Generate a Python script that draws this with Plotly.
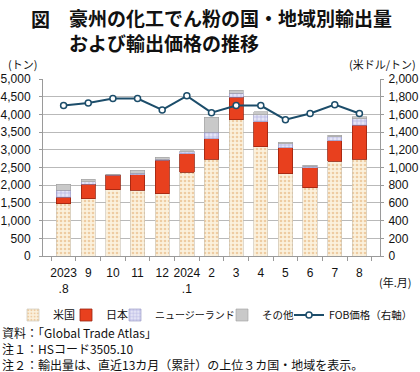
import plotly.graph_objects as go

categories = ["2023.8", "2023.9", "2023.10", "2023.11", "2023.12", "2024.1", "2024.2",
              "2024.3", "2024.4", "2024.5", "2024.6", "2024.7", "2024.8"]
tick_labels = ["2023<br>.8", "9", "10", "11", "12", "2024<br>.1", "2",
               "3", "4", "5", "6", "7", "8"]
us = [1470, 1620, 1870, 1860, 1760, 2360, 2730, 3850, 3090, 2330, 1930, 2680, 2740]
japan = [190, 410, 410, 430, 950, 530, 580, 640, 700, 730, 560, 580, 950]
nz = [200, 70, 15, 50, 20, 50, 180, 110, 200, 110, 50, 110, 190]
other = [160, 70, 15, 80, 60, 40, 430, 80, 90, 50, 30, 40, 60]
fob = [1700, 1730, 1780, 1780, 1650, 1810, 1620, 1700, 1700, 1540, 1610, 1710, 1610]

L, R, T, B = 43, 40, 79, 116
W, H = 420, 372
PW, PH = W - L - R, H - T - B


def px(x):
    return (x - L) / PW


def py(y):
    return (T + PH - y) / PH


NUM = "Liberation Sans, Arial, Noto Sans CJK JP"
JP = "Noto Sans CJK JP, Liberation Sans"

fig = go.Figure()
fig.add_trace(go.Bar(
    x=categories, y=us, name="米国", legend="legend",
    marker=dict(color="#fbf1dd", line=dict(color="#c8c0b0", width=0.6),
                pattern=dict(shape=".", fgcolor="#e2a868", bgcolor="#fbf1dd", size=4, solidity=0.35)),
))
fig.add_trace(go.Bar(
    x=categories, y=japan, name="日本", legend="legend2",
    marker=dict(color="#e8401e", line=dict(color="#9a2410", width=0.8)),
))
fig.add_trace(go.Bar(
    x=categories, y=nz, name="ニュージーランド", legend="legend3",
    marker=dict(color="#dcdcf2", line=dict(color="#9090c0", width=0.6),
                pattern=dict(shape="+", fgcolor="#7f7fcc", bgcolor="#e4e4f6", size=4, solidity=0.3)),
))
fig.add_trace(go.Bar(
    x=categories, y=other, name="その他", legend="legend4",
    marker=dict(color="#c9c9c9", line=dict(color="#a0a0a0", width=0.6)),
))
fig.add_trace(go.Scatter(
    x=categories, y=fob, name="FOB価格（右軸）", yaxis="y2", legend="legend5",
    mode="lines+markers",
    line=dict(color="#1c4d6a", width=2),
    marker=dict(symbol="circle", size=6, color="white", line=dict(color="#1c4d6a", width=1.5)),
))

legend_base = dict(orientation="h", xanchor="left", yanchor="middle",
                   bgcolor="rgba(0,0,0,0)", itemwidth=30, borderwidth=0)
legend_text_x = [55, 108, 157, 264, 331]
legend_font = [11, 11, 10, 10.5, 10.5]
legends = {}
for i, (tx, fs) in enumerate(zip(legend_text_x, legend_font)):
    key = "legend" if i == 0 else f"legend{i+1}"
    legends[key] = dict(legend_base, x=px(tx - 42), y=py(315),
                        font=dict(family=JP, size=fs, color="#111"))

fig.update_layout(
    width=W, height=H, autosize=False,
    margin=dict(l=L, r=R, t=T, b=B, autoexpand=False),
    paper_bgcolor="white", plot_bgcolor="white",
    barmode="stack", bargap=0.42,
    showlegend=True,
    font=dict(family=NUM, size=12, color="#111"),
    xaxis=dict(type="category", tickmode="array", tickvals=categories, ticktext=tick_labels,
               tickson="boundaries", ticks="outside", ticklen=4, tickcolor="#9a9a9a",
               showline=True, linecolor="#9a9a9a", linewidth=1, showgrid=False, tickangle=0,
               tickfont=dict(family=NUM, size=12, color="#111"), ticklabelstandoff=6),
    yaxis=dict(range=[0, 5000], dtick=500, tickformat=",d", showgrid=True,
               gridcolor="#b9b9b9", gridwidth=1, zeroline=False,
               showline=True, linecolor="#9a9a9a", ticks="outside", ticklen=3, tickcolor="#9a9a9a",
               tickfont=dict(family=NUM, size=12, color="#111"), ticklabelstandoff=6),
    yaxis2=dict(range=[0, 2000], dtick=200, tickformat=",d", overlaying="y", side="right",
                showgrid=False, zeroline=False, showline=True, linecolor="#9a9a9a",
                ticks="outside", ticklen=3, tickcolor="#9a9a9a",
                tickfont=dict(family=NUM, size=12, color="#111"), ticklabelstandoff=2),
    **legends,
)

ann = [
    dict(text="<b>図</b>", x=px(29), y=py(18.5), xanchor="left", yanchor="middle",
         font=dict(family=JP, size=19, color="#111")),
    dict(text="<b>豪州の化工でん粉の国・地域別輸出量</b><br><b>および輸出価格の推移</b>",
         x=px(67), y=py(30), xanchor="left", yanchor="middle", align="left",
         font=dict(family=JP, size=19, color="#111")),
    dict(text="(トン)", x=px(6), y=py(64), xanchor="left", yanchor="middle",
         font=dict(family=JP, size=11, color="#111")),
    dict(text="(米ドル/トン)", x=px(418), y=py(64), xanchor="right", yanchor="middle",
         font=dict(family=JP, size=11, color="#111")),
    dict(text="(年.月)", x=px(377), y=py(282), xanchor="left", yanchor="middle",
         font=dict(family=JP, size=11, color="#111")),
    dict(text="資料：「Global Trade Atlas」", x=px(0), y=py(332), xanchor="left", yanchor="middle",
         font=dict(family=JP, size=12, color="#111")),
    dict(text="注１：HSコード3505.10", x=px(0), y=py(348), xanchor="left", yanchor="middle",
         font=dict(family=JP, size=12, color="#111")),
    dict(text="注２：輸出量は、直近13カ月（累計）の上位３カ国・地域を表示。", x=px(0), y=py(364),
         xanchor="left", yanchor="middle", font=dict(family=JP, size=12, color="#111")),
]
for a in ann:
    a.update(xref="paper", yref="paper", showarrow=False)
fig.update_layout(annotations=ann)

fig.write_html("out.html", config={"displayModeBar": False},
               post_script="document.body.style.margin='0px';")
